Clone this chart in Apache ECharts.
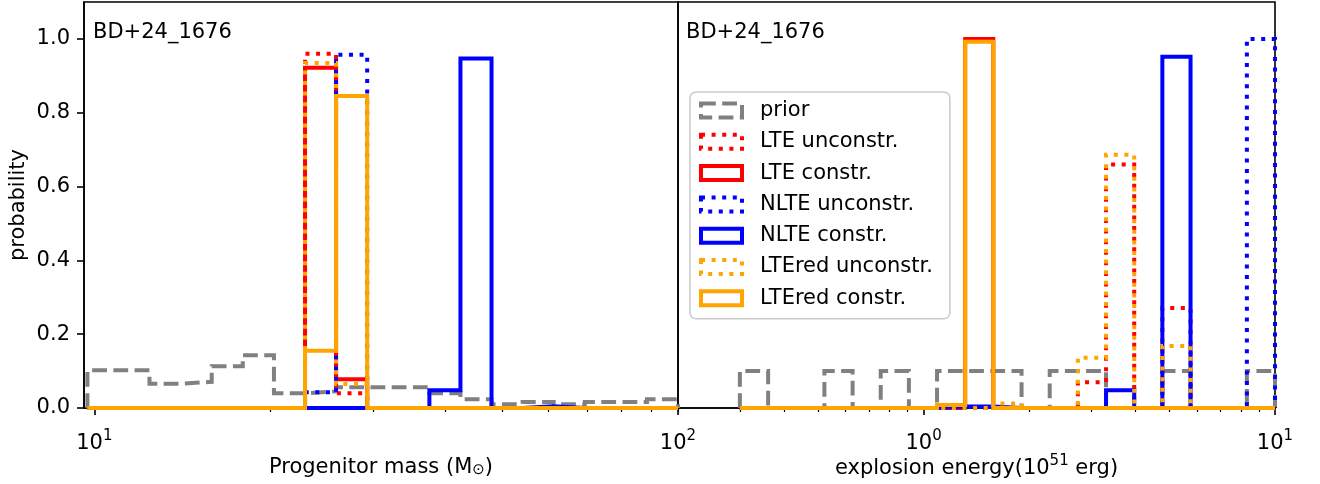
<!DOCTYPE html>
<html><head><meta charset="utf-8">
<script src="https://cdn.jsdelivr.net/npm/echarts@6/dist/echarts.min.js"></script>
<style>html,body{margin:0;padding:0;background:#fff}#c{width:1320px;height:484px}</style>
</head><body><div id="c"></div>
<script>
// ---------------- data ----------------
const panelTitle = 'BD+24_1676';
const seriesNames = ['prior', 'LTE unconstr.', 'LTE constr.', 'NLTE unconstr.', 'NLTE constr.', 'LTEred unconstr.', 'LTEred constr.'];

// bin edges (19 bins each)
const massEdges = [9.73, 11.0, 12.43, 14.05, 15.89, 17.96, 20.31, 22.96, 25.95, 29.34, 33.17, 37.50, 42.39, 47.92, 54.17, 61.24, 69.23, 78.26, 88.46, 100.0];
const energyEdges = [0.300, 0.361, 0.434, 0.522, 0.628, 0.755, 0.908, 1.092, 1.313, 1.579, 1.900, 2.285, 2.748, 3.305, 3.975, 4.780, 5.750, 6.915, 8.317, 10.0];

// progenitor mass probabilities
const massPrior        = [0.102, 0.102, 0.066, 0.071, 0.113, 0.143, 0.040, 0.045, 0.056, 0.056, 0.056, 0.040, 0.024, 0.010, 0.016, 0.010, 0.016, 0.016, 0.024];
const massLTEunc       = [0, 0, 0, 0, 0, 0, 0, 0.960, 0.040, 0, 0, 0, 0, 0, 0, 0, 0, 0, 0];
const massLTEcon       = [0, 0, 0, 0, 0, 0, 0, 0.922, 0.078, 0, 0, 0, 0, 0, 0, 0, 0, 0, 0];
const massNLTEunc      = [0, 0, 0, 0, 0, 0, 0, 0.043, 0.957, 0, 0, 0, 0, 0, 0, 0, 0, 0, 0];
const massNLTEcon      = [0, 0, 0, 0, 0, 0, 0, 0, 0, 0, 0, 0.048, 0.947, 0, 0.005, 0, 0, 0, 0];
const massLTEredUnc    = [0, 0, 0, 0, 0, 0, 0, 0.935, 0.065, 0, 0, 0, 0, 0, 0, 0, 0, 0, 0];
const massLTEredCon    = [0, 0, 0, 0, 0, 0, 0, 0.155, 0.845, 0, 0, 0, 0, 0, 0, 0, 0, 0, 0];

// explosion energy probabilities
const energyPrior      = [0.1, 0, 0, 0.1, 0, 0.1, 0, 0.1, 0.1, 0.1, 0, 0.1, 0.1, 0, 0, 0.1, 0, 0, 0.1];
const energyLTEunc     = [0, 0, 0, 0, 0, 0, 0, 0, 0, 0, 0, 0, 0.070, 0.660, 0, 0.271, 0, 0, 0];
const energyLTEcon     = [0, 0, 0, 0, 0, 0, 0, 0, 1.0, 0, 0, 0, 0, 0, 0, 0, 0, 0, 0];
const energyNLTEunc    = [0, 0, 0, 0, 0, 0, 0, 0, 0, 0, 0, 0, 0, 0, 0, 0, 0, 0, 1.0];
const energyNLTEcon    = [0, 0, 0, 0, 0, 0, 0, 0.004, 0.004, 0, 0, 0, 0, 0.048, 0, 0.952, 0, 0, 0];
const energyLTEredUnc  = [0, 0, 0, 0, 0, 0, 0, 0, 0, 0.012, 0, 0, 0.136, 0.686, 0, 0.168, 0, 0, 0];
const energyLTEredCon  = [0, 0, 0, 0, 0, 0, 0, 0.008, 0.992, 0, 0, 0, 0, 0, 0, 0, 0, 0, 0];

// tick values
const yTicks = [0, 0.2, 0.4, 0.6, 0.8, 1.0];
const massMajor = [10, 100];
const massMinor = [20, 30, 40, 50, 60, 70, 80, 90];
const energyMajor = [1, 10];
const energyMinor = [0.2, 0.3, 0.4, 0.5, 0.6, 0.7, 0.8, 0.9, 2, 3, 4, 5, 6, 7, 8, 9];

// ---------------- styling ----------------
const FONT = 'DejaVu Sans';
const FS = 21;
const LW = 4;
const styleOf = {
  'prior':            { color: '#808080', type: [14.8, 6.4] },
  'LTE unconstr.':    { color: '#ff0000', type: [4, 6.6] },
  'LTE constr.':      { color: '#ff0000', type: 'solid' },
  'NLTE unconstr.':   { color: '#0000ff', type: [4, 6.6] },
  'NLTE constr.':     { color: '#0000ff', type: 'solid' },
  'LTEred unconstr.': { color: '#ffa500', type: [4, 6.6] },
  'LTEred constr.':   { color: '#ffa500', type: 'solid' }
};

function stepOutline(edges, h) {
  const pts = [[edges[0], 0]];
  for (let i = 0; i < h.length; i++) {
    pts.push([edges[i], h[i]]);
    pts.push([edges[i + 1], h[i]]);
  }
  pts.push([edges[edges.length - 1], 0]);
  return pts;
}

const massSets = [massPrior, massLTEunc, massLTEcon, massNLTEunc, massNLTEcon, massLTEredUnc, massLTEredCon];
const energySets = [energyPrior, energyLTEunc, energyLTEcon, energyNLTEunc, energyNLTEcon, energyLTEredUnc, energyLTEredCon];

const series = [];
function addPanel(sets, edges, xIdx, yIdx) {
  sets.forEach((h, i) => {
    const nm = seriesNames[i];
    const st = styleOf[nm];
    series.push({
      name: nm, type: 'line', xAxisIndex: xIdx, yAxisIndex: yIdx,
      data: stepOutline(edges, h), showSymbol: false, symbol: 'none', silent: true,
      animation: false, clip: true,
      itemStyle: { color: st.color },
      lineStyle: { color: st.color, width: LW, type: st.type, cap: 'butt', join: 'miter' },
      z: 2 + i
    });
  });
}
addPanel(massSets, massEdges, 0, 0);
addPanel(energySets, energyEdges, 2, 1);

const supRich = {
  b: { fontSize: FS, lineHeight: 25, fontFamily: FONT, color: '#000', verticalAlign: 'bottom' },
  s: { fontSize: 15, lineHeight: 15, fontFamily: FONT, color: '#000', verticalAlign: 'top' }
};
function powLabel(v) {
  const e = Math.round(Math.log10(v));
  return '{b|10}{s|' + e + '}';
}

function majorAxis(grid, min, max, ticks, name, gap) {
  return {
    type: 'log', logBase: 10, gridIndex: grid, min: min, max: max, position: 'bottom',
    axisLine: { show: true, onZero: false, lineStyle: { color: '#000', width: 1.6 } },
    axisTick: { show: true, customValues: ticks, length: 7, lineStyle: { color: '#000', width: 1.6 } },
    axisLabel: { show: true, customValues: ticks, margin: 21, formatter: powLabel, rich: supRich },
    splitLine: { show: false }, minorTick: { show: false },
    name: name, nameLocation: 'middle', nameGap: gap, nameMoveOverlap: false,
    nameTextStyle: { fontFamily: FONT, fontSize: FS, color: '#000', rich: {
      t: { fontSize: FS, lineHeight: 25, fontFamily: FONT, color: '#000', verticalAlign: 'bottom' },
      sub: { fontSize: 15, lineHeight: 15, fontFamily: FONT, color: '#000', verticalAlign: 'bottom' },
      sup: { fontSize: 15, lineHeight: 15, fontFamily: FONT, color: '#000', verticalAlign: 'top' }
    } }
  };
}
function minorAxis(grid, min, max, ticks) {
  return {
    type: 'log', logBase: 10, gridIndex: grid, min: min, max: max, position: 'bottom',
    axisLine: { show: false },
    axisTick: { show: true, customValues: ticks, length: 4, lineStyle: { color: '#000', width: 1.2 } },
    axisLabel: { show: false }, splitLine: { show: false }
  };
}

const option = {
  animation: false,
  backgroundColor: '#fff',
  textStyle: { fontFamily: FONT },
  title: [
    { text: panelTitle, left: 93, top: 22, padding: 0, textStyle: { fontFamily: FONT, fontSize: FS, fontWeight: 'normal', color: '#000', lineHeight: 21 } },
    { text: panelTitle, left: 686, top: 22, padding: 0, textStyle: { fontFamily: FONT, fontSize: FS, fontWeight: 'normal', color: '#000', lineHeight: 21 } }
  ],
  grid: [
    { left: 84, top: 2, width: 594, height: 406, show: true, borderColor: '#000', borderWidth: 1.6, backgroundColor: 'transparent', containLabel: false, outerBoundsMode: 'none' },
    { left: 678, top: 2, width: 597, height: 406, show: true, borderColor: '#000', borderWidth: 1.6, backgroundColor: 'transparent', containLabel: false, outerBoundsMode: 'none' }
  ],
  xAxis: [
    majorAxis(0, 9.6, 100, massMajor, '{t|Progenitor mass (M}{sub|⊙}{t|)}', 45),
    minorAxis(0, 9.6, 100, massMinor),
    majorAxis(1, 0.2, 10, energyMajor, '{t|explosion energy(10}{sup|51}{t| erg)}', 46),
    minorAxis(1, 0.2, 10, energyMinor)
  ],
  yAxis: [
    { type: 'value', gridIndex: 0, min: 0, max: 1.1,
      axisLine: { show: true, lineStyle: { color: '#000', width: 1.6 } },
      axisTick: { show: true, customValues: yTicks, length: 7, lineStyle: { color: '#000', width: 1.6 } },
      axisLabel: { show: true, customValues: yTicks, margin: 14, fontSize: FS, color: '#000', fontFamily: FONT, formatter: v => v.toFixed(1) },
      splitLine: { show: false },
      name: 'probability', nameLocation: 'middle', nameGap: 55, nameMoveOverlap: false,
      nameTextStyle: { fontFamily: FONT, fontSize: FS, color: '#000' } },
    { type: 'value', gridIndex: 1, min: 0, max: 1.1,
      axisLine: { show: false }, axisTick: { show: false }, axisLabel: { show: false }, splitLine: { show: false } }
  ],
  legend: {
    orient: 'vertical', left: 690, top: 92,
    padding: [8, 17, 10, 9], itemGap: 10.3, itemWidth: 41, itemHeight: 14,
    backgroundColor: 'rgba(255,255,255,0.8)', borderColor: '#cccccc', borderWidth: 1.6, borderRadius: 6,
    icon: 'rect', selectedMode: false,
    textStyle: { fontFamily: FONT, fontSize: FS, color: '#000', lineHeight: 21, padding: [0, 0, 0, 13] },
    data: seriesNames.map(nm => ({
      name: nm,
      itemStyle: { color: 'rgba(0,0,0,0)', borderColor: styleOf[nm].color, borderWidth: LW,
                   borderType: styleOf[nm].type, borderCap: 'butt', borderJoin: 'miter' }
    }))
  },
  series: series
};

const chart = echarts.init(document.getElementById('c'), null, { renderer: 'canvas' });
chart.setOption(option);
</script>
</body></html>
